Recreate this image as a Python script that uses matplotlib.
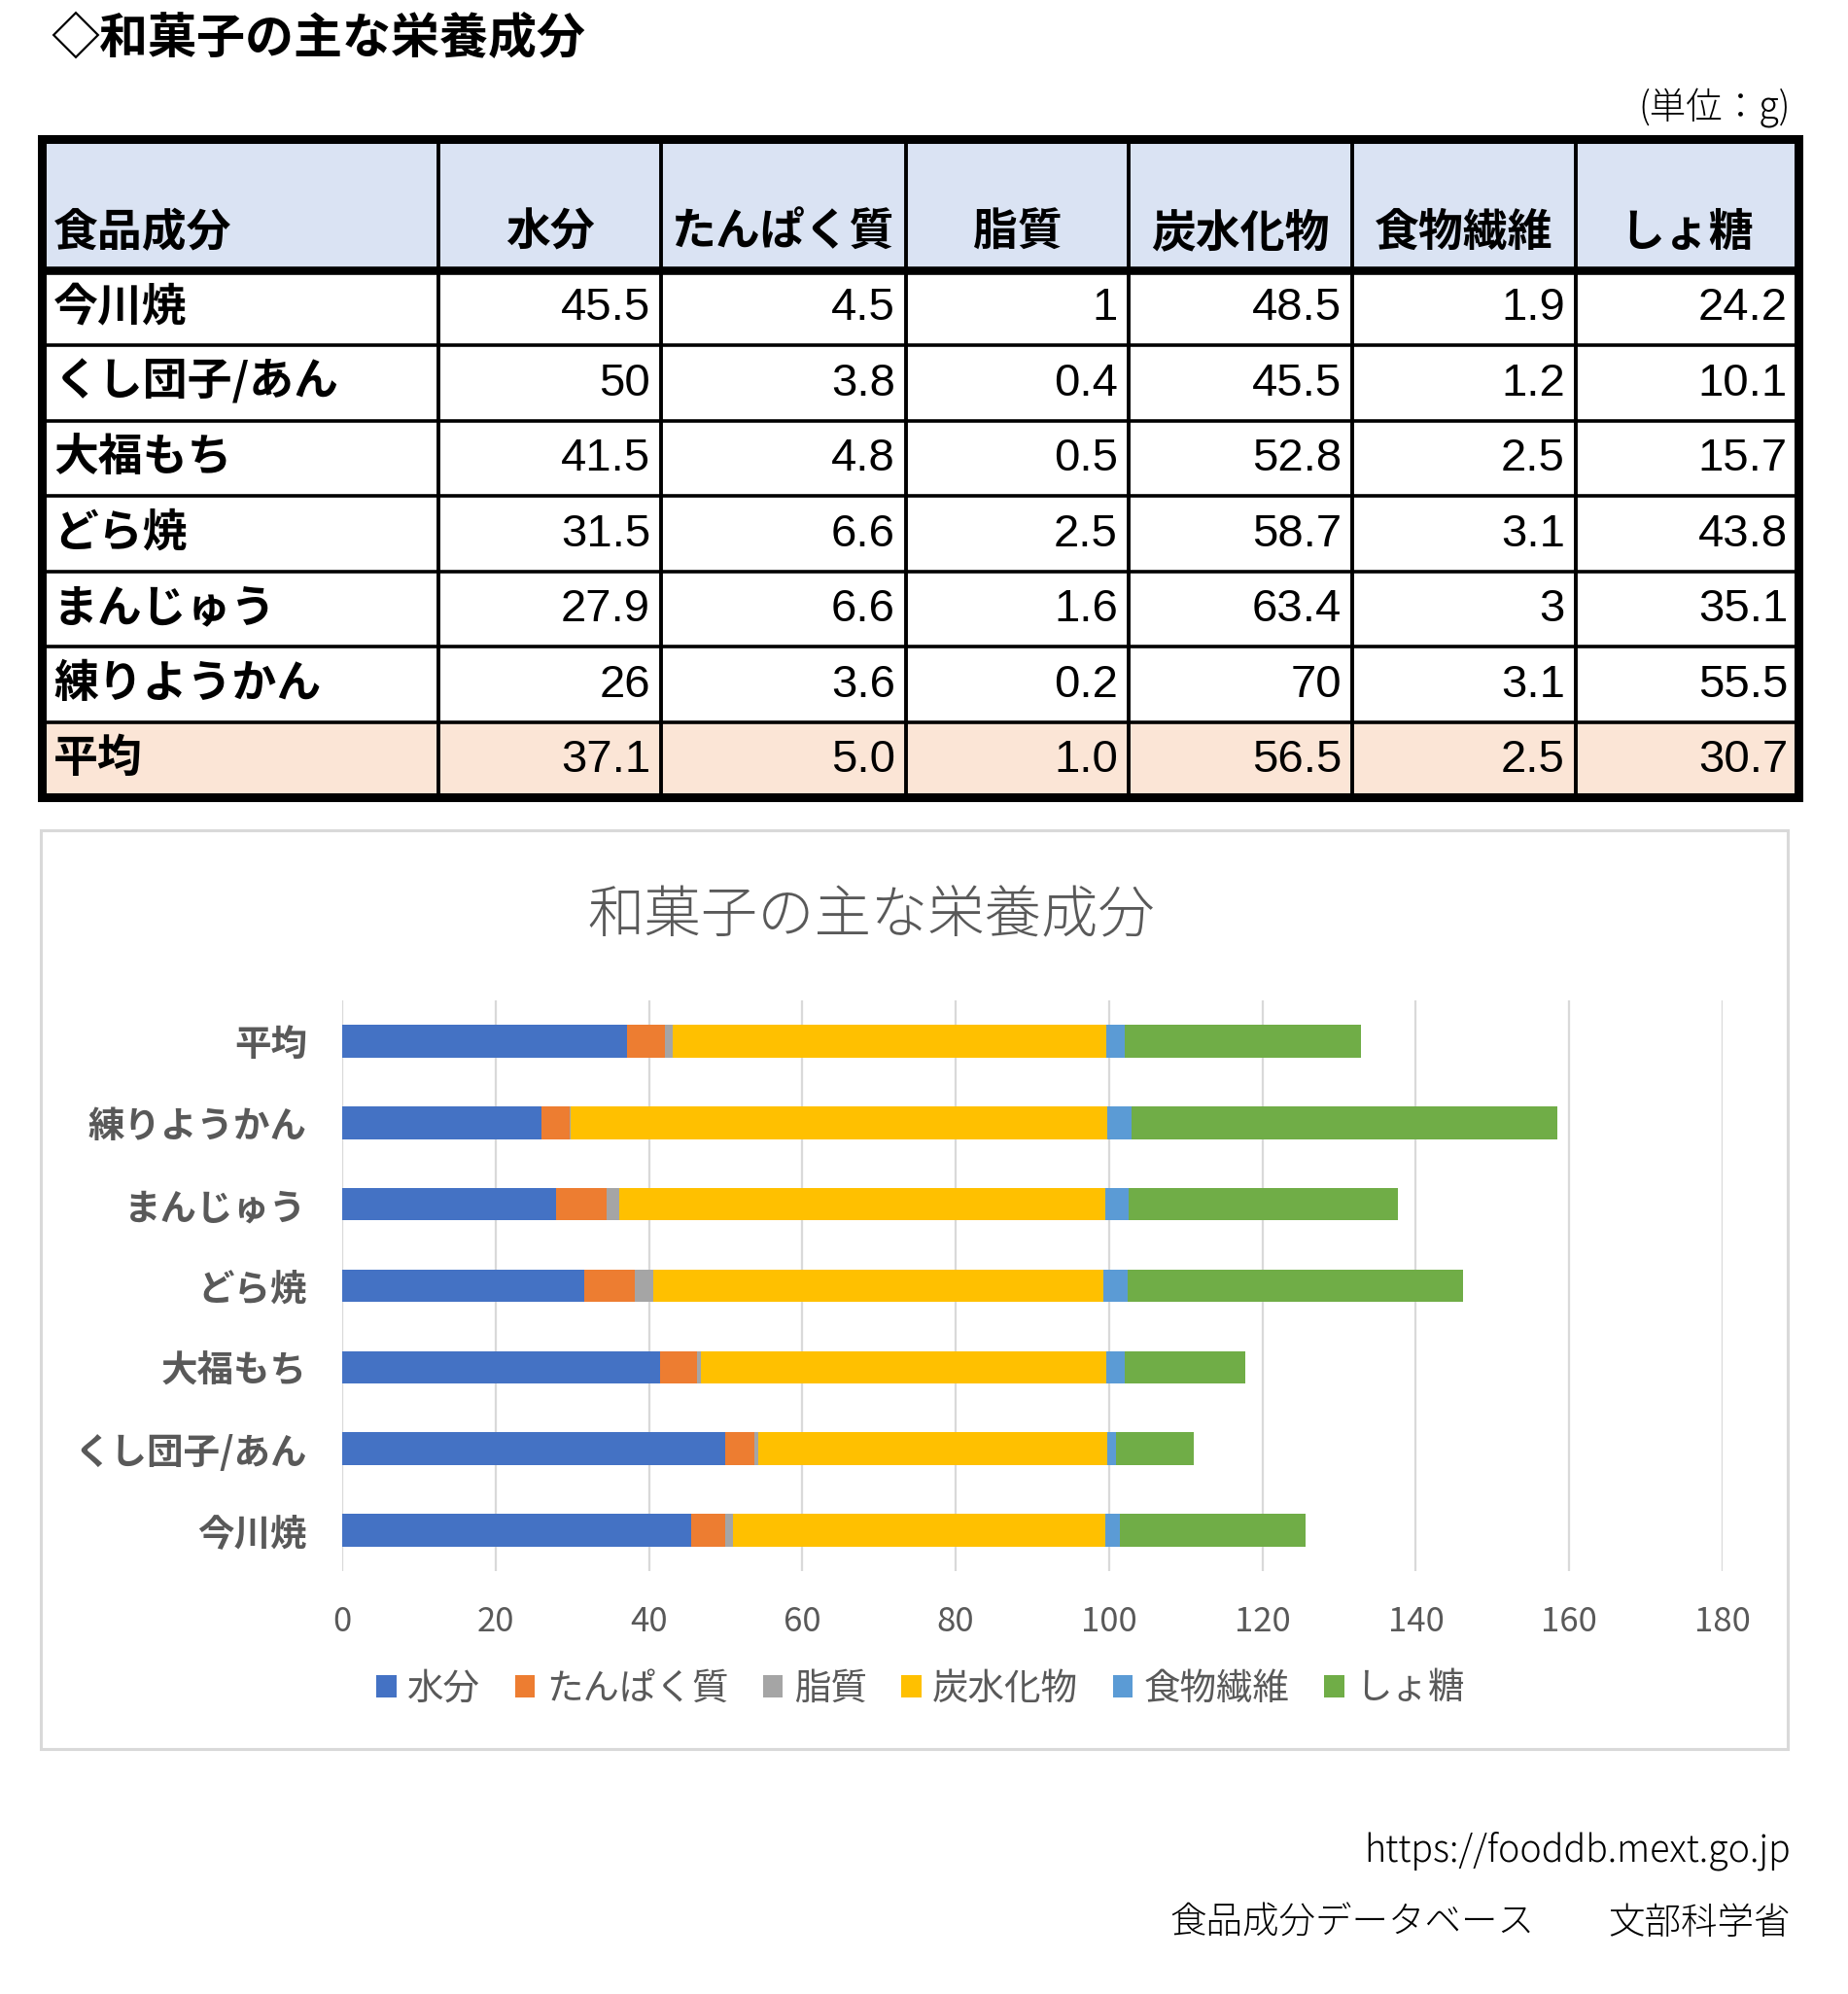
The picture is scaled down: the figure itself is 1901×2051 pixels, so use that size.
import matplotlib
matplotlib.use('Agg')
import matplotlib.pyplot as plt
from matplotlib.patches import Rectangle, Patch
from matplotlib import font_manager

plt.rcParams['font.family'] = ['Noto Sans CJK JP', 'DejaVu Sans']

# data (unit: g)
foods = ['今川焼', 'くし団子/あん', '大福もち', 'どら焼', 'まんじゅう', '練りようかん', '平均']
nutrients = ['水分', 'たんぱく質', '脂質', '炭水化物', '食物繊維', 'しょ糖']
water = [45.5, 50, 41.5, 31.5, 27.9, 26, 37.1]
protein = [4.5, 3.8, 4.8, 6.6, 6.6, 3.6, 5.0]
fat = [1, 0.4, 0.5, 2.5, 1.6, 0.2, 1.0]
carbo = [48.5, 45.5, 52.8, 58.7, 63.4, 70, 56.5]
fiber = [1.9, 1.2, 2.5, 3.1, 3, 3.1, 2.5]
sucrose = [24.2, 10.1, 15.7, 43.8, 35.1, 55.5, 30.7]
series = [water, protein, fat, carbo, fiber, sucrose]
xticks = [0, 20, 40, 60, 80, 100, 120, 140, 160, 180]

colors = ['#4472C4', '#ED7D31', '#A5A5A5', '#FFC000', '#5B9BD5', '#70AD47']
GRAY = '#595959'

# narrow font for the numbers in the table, if there is one
names = {f.name for f in font_manager.fontManager.ttflist}
if 'Liberation Sans Narrow' in names:
    num_font, num_size = 'Liberation Sans Narrow', 39
else:
    num_font, num_size = 'Liberation Sans', 34

W, H = 1901, 2051
fig = plt.figure(figsize=(W / 100, H / 100), dpi=100)

# background axes in pixel coords for table / frame / notes
bg = fig.add_axes([0, 0, 1, 1])
bg.set_xlim(0, W)
bg.set_ylim(H, 0)
bg.axis('off')

bg.text(52, 40, '◇和菓子の主な栄養成分', fontsize=36, fontweight='bold',
        ha='left', va='center')
bg.text(1842, 111, '(単位：g)', fontsize=27, fontweight='light',
        ha='right', va='center')

# ---- table ----
col_x = [43, 451, 680, 932, 1161, 1391, 1621, 1850]
head_top, head_bot = 142.5, 277.5
row_h = (820 - head_bot) / len(foods)
row_y = [head_bot + i * row_h for i in range(len(foods) + 1)]

bg.add_patch(Rectangle((col_x[0], head_top), col_x[-1] - col_x[0], head_bot - head_top,
                       facecolor='#DAE3F3', edgecolor='none'))
bg.add_patch(Rectangle((col_x[0], row_y[-2]), col_x[-1] - col_x[0], row_y[-1] - row_y[-2],
                       facecolor='#FBE5D6', edgecolor='none'))

bg.text(55, 240, '食品成分', fontsize=33, fontweight='bold', ha='left', va='center')
for j, n in enumerate(nutrients):
    bg.text((col_x[j + 1] + col_x[j + 2]) / 2, 240, n, fontsize=33,
            fontweight='bold', ha='center', va='center')

for i, food in enumerate(foods):
    yc = (row_y[i] + row_y[i + 1]) / 2
    bg.text(55, yc, food, fontsize=33, fontweight='bold', ha='left', va='center')
    for j, s in enumerate(series):
        v = s[i]
        txt = f'{v:.1f}' if food == '平均' else f'{v:g}'
        bg.text(col_x[j + 2] - 11, yc + 1, txt, fontsize=num_size, family=num_font,
                ha='right', va='center')

# grid lines of the table
for x in col_x[1:-1]:
    bg.plot([x, x], [head_top, 820], color='black', lw=2.8, solid_capstyle='butt')
for y in row_y[1:-1]:
    bg.plot([col_x[0], col_x[-1]], [y, y], color='black', lw=2.6, solid_capstyle='butt')
bg.plot([col_x[0], col_x[-1]], [head_bot, head_bot], color='black', lw=6.2,
        solid_capstyle='butt')
bg.add_patch(Rectangle((col_x[0], head_top), col_x[-1] - col_x[0], 820 - head_top,
                       facecolor='none', edgecolor='black', lw=6.5, joinstyle='miter'))

# ---- chart frame ----
bg.add_patch(Rectangle((42, 854), 1839 - 42, 1799 - 854, facecolor='none',
                       edgecolor='#D9D9D9', lw=2.2))
bg.text(896, 943, '和菓子の主な栄養成分', fontsize=42, color=GRAY,
        fontweight='light', ha='center', va='center')

# footer
bg.text(1842, 1904, 'https://fooddb.mext.go.jp', fontsize=27, fontweight='light',
        ha='right', va='center')
bg.text(1578, 1978, '食品成分データベース', fontsize=27, fontweight='light',
        ha='right', va='center')
bg.text(1842, 1978, '文部科学省', fontsize=27, fontweight='light',
        ha='right', va='center')

# ---- stacked bar chart ----
ax = fig.add_axes([352 / W, 1 - 1616 / H, (1772 - 352) / W, (1616 - 1029) / H])
y = list(range(len(foods)))
left = [0] * len(foods)
for name, s, c in zip(nutrients, series, colors):
    ax.barh(y, s, left=left, height=0.4, color=c, label=name, zorder=3)
    left = [a + b for a, b in zip(left, s)]

ax.set_xlim(0, 180)
ax.set_ylim(-0.5, len(foods) - 0.5)
ax.set_xticks(xticks)
ax.set_yticks(y)
ax.set_yticklabels(foods, fontsize=27, fontweight='bold', color=GRAY)
ax.tick_params(axis='x', length=0, pad=25, labelsize=25, labelcolor=GRAY)
ax.tick_params(axis='y', length=0, pad=26)
ax.grid(axis='x', color='#D9D9D9', lw=1.6, zorder=0)
ax.set_axisbelow(True)
for sp in ax.spines.values():
    sp.set_visible(False)
ax.set_facecolor('none')

handles = [Patch(facecolor=c, edgecolor='none') for c in colors]
leg = fig.legend(handles, nutrients, loc='center', ncol=6, frameon=False,
                 bbox_to_anchor=(947 / W, 1 - 1737 / H), fontsize=27,
                 handlelength=0.55, handleheight=0.55, handletextpad=0.3,
                 columnspacing=0.95)
for t in leg.get_texts():
    t.set_color(GRAY)

fig.savefig('out.png', dpi=100, facecolor='white')
